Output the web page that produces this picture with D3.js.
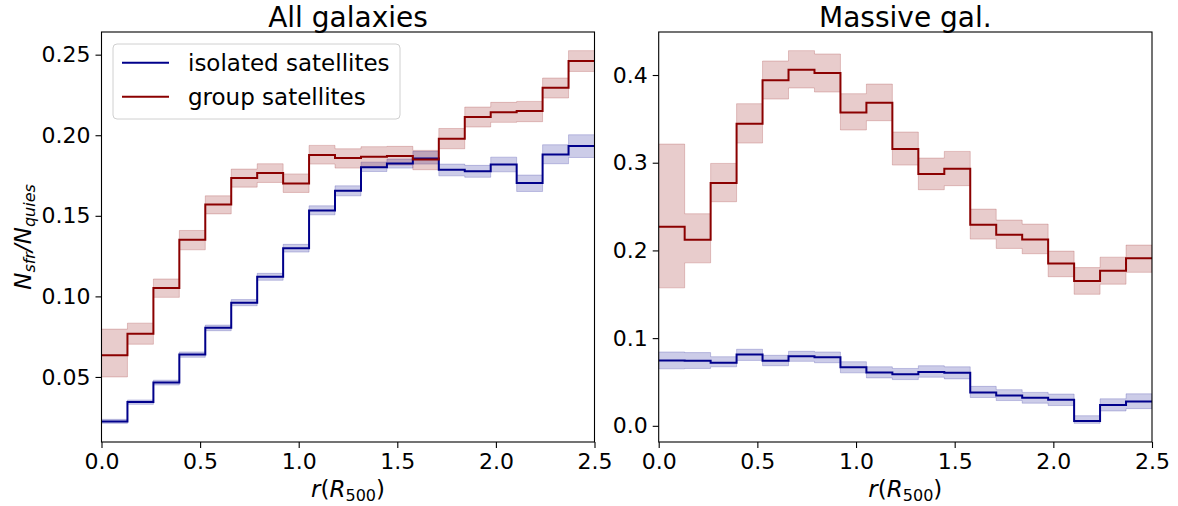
<!DOCTYPE html>
<html>
<head>
<meta charset="utf-8">
<script src="https://cdn.jsdelivr.net/npm/d3@7/dist/d3.min.js"></script>
<style>
  html, body { margin: 0; padding: 0; background: #fff; }
  svg { display: block; font-family: "DejaVu Sans", sans-serif; }
</style>
</head>
<body>
<svg id="chart" width="1178" height="506"></svg>
<script>
// ---- data ----
const binEdges = [0, 0.1316, 0.2632, 0.3947, 0.5263, 0.6579, 0.7895, 0.9211, 1.0526, 1.1842,
                  1.3158, 1.4474, 1.5789, 1.7105, 1.8421, 1.9737, 2.1053, 2.2368, 2.3684, 2.5];

const panelTitles = ["All galaxies", "Massive gal."];
const seriesNames = ["isolated satellites", "group satellites"];
const xTicks = [0.0, 0.5, 1.0, 1.5, 2.0, 2.5];
const yTicksAll = [0.05, 0.10, 0.15, 0.20, 0.25];
const yTicksMassive = [0.0, 0.1, 0.2, 0.3, 0.4];

// All galaxies – isolated satellites
const allIsoVal = [0.0224, 0.0344, 0.0465, 0.0639, 0.0805, 0.0961, 0.1122, 0.1299, 0.1533, 0.1655,
                   0.1802, 0.1825, 0.1856, 0.1786, 0.1777, 0.1819, 0.1703, 0.1881, 0.1933];
const allIsoLo  = [0.0212, 0.0330, 0.0450, 0.0622, 0.0787, 0.0942, 0.1100, 0.1275, 0.1506, 0.1624,
                   0.1775, 0.1796, 0.1821, 0.1748, 0.1739, 0.1773, 0.1651, 0.1823, 0.1862];
const allIsoHi  = [0.0237, 0.0357, 0.0480, 0.0655, 0.0822, 0.0980, 0.1143, 0.1323, 0.1562, 0.1686,
                   0.1833, 0.1852, 0.1900, 0.1821, 0.1813, 0.1864, 0.1753, 0.1941, 0.2003];
// All galaxies – group satellites
const allGrpVal = [0.0635, 0.0768, 0.1052, 0.1351, 0.1570, 0.1734, 0.1765, 0.1701, 0.1877, 0.1858,
                   0.1866, 0.1871, 0.1850, 0.1978, 0.2113, 0.2142, 0.2150, 0.2295, 0.2461];
const allGrpLo  = [0.0500, 0.0703, 0.0994, 0.1289, 0.1512, 0.1678, 0.1707, 0.1645, 0.1821, 0.1796,
                   0.1806, 0.1815, 0.1786, 0.1916, 0.2051, 0.2080, 0.2084, 0.2231, 0.2396];
const allGrpHi  = [0.0797, 0.0834, 0.1108, 0.1409, 0.1624, 0.1790, 0.1823, 0.1760, 0.1937, 0.1916,
                   0.1929, 0.1931, 0.1906, 0.2042, 0.2175, 0.2204, 0.2210, 0.2355, 0.2525];

// Massive galaxies – isolated satellites
const masIsoVal = [0.0746, 0.0742, 0.0719, 0.0812, 0.0742, 0.0792, 0.0781, 0.0669, 0.0608, 0.0588,
                   0.0615, 0.0604, 0.0381, 0.0346, 0.0319, 0.0296, 0.0054, 0.0238, 0.0277];
const masIsoLo  = [0.0650, 0.0654, 0.0673, 0.0746, 0.0685, 0.0735, 0.0719, 0.0604, 0.0546, 0.0527,
                   0.0554, 0.0535, 0.0323, 0.0288, 0.0258, 0.0231, 0.0028, 0.0169, 0.0196];
const masIsoHi  = [0.0842, 0.0835, 0.0788, 0.0873, 0.0804, 0.0850, 0.0842, 0.0731, 0.0673, 0.0654,
                   0.0685, 0.0673, 0.0450, 0.0412, 0.0381, 0.0362, 0.0115, 0.0308, 0.0365];
// Massive galaxies – group satellites
const masGrpVal = [0.2270, 0.2122, 0.2768, 0.3445, 0.3939, 0.4061, 0.4023, 0.3574, 0.3684, 0.3156,
                   0.2871, 0.2932, 0.2293, 0.2179, 0.2125, 0.1850, 0.1650, 0.1769, 0.1912];
const masGrpLo  = [0.1573, 0.1858, 0.2555, 0.3224, 0.3726, 0.3852, 0.3806, 0.3373, 0.3479, 0.2973,
                   0.2692, 0.2738, 0.2129, 0.2023, 0.1962, 0.1700, 0.1500, 0.1615, 0.1750];
const masGrpHi  = [0.3213, 0.2418, 0.2992, 0.3673, 0.4160, 0.4278, 0.4240, 0.3787, 0.3897, 0.3350,
                   0.3053, 0.3129, 0.2471, 0.2346, 0.2300, 0.1992, 0.1804, 0.1923, 0.2061];

const colors = { iso: "#00008b", grp: "#8b0000" };

// ---- layout ----
const svg = d3.select("#chart");
const panels = [
  { left: 101.5, right: 594.5, title: panelTitles[0], yTicks: yTicksAll, yFmt: d3.format(".2f"),
    series: [
      { key: "iso", val: allIsoVal, lo: allIsoLo, hi: allIsoHi },
      { key: "grp", val: allGrpVal, lo: allGrpLo, hi: allGrpHi } ], legend: true },
  { left: 658.7, right: 1152, title: panelTitles[1], yTicks: yTicksMassive, yFmt: d3.format(".1f"),
    series: [
      { key: "iso", val: masIsoVal, lo: masIsoLo, hi: masIsoHi },
      { key: "grp", val: masGrpVal, lo: masGrpLo, hi: masGrpHi } ], legend: false }
];
const plotTop = 32, plotBottom = 442;

function toPoints(s) {
  const pts = s.val.map((v, i) => ({ x: binEdges[i], v: v, lo: s.lo[i], hi: s.hi[i] }));
  const n = s.val.length - 1;
  pts.push({ x: binEdges[n + 1], v: s.val[n], lo: s.lo[n], hi: s.hi[n] });
  return pts;
}

panels.forEach((p, pi) => {
  const g = svg.append("g");
  const x = d3.scaleLinear().domain([0, 2.5]).range([p.left, p.right]);
  const allLo = d3.min(p.series, s => d3.min(s.lo));
  const allHi = d3.max(p.series, s => d3.max(s.hi));
  const pad = (allHi - allLo) * 0.05;
  const y = d3.scaleLinear().domain([allLo - pad, allHi + pad]).range([plotBottom, plotTop]);

  const clipId = "clip" + pi;
  g.append("clipPath").attr("id", clipId).append("rect")
    .attr("x", p.left).attr("y", plotTop).attr("width", p.right - p.left).attr("height", plotBottom - plotTop);

  const plot = g.append("g").attr("clip-path", `url(#${clipId})`);
  p.series.forEach(s => {
    const pts = toPoints(s);
    const area = d3.area().curve(d3.curveStepAfter)
      .x(d => x(d.x)).y0(d => y(d.lo)).y1(d => y(d.hi));
    plot.append("path").datum(pts).attr("d", area)
      .attr("fill", colors[s.key]).attr("fill-opacity", 0.2)
      .attr("stroke", colors[s.key]).attr("stroke-opacity", 0.2).attr("stroke-width", 1);
  });
  p.series.forEach(s => {
    const pts = toPoints(s);
    const line = d3.line().curve(d3.curveStepAfter).x(d => x(d.x)).y(d => y(d.v));
    plot.append("path").datum(pts).attr("d", line)
      .attr("fill", "none").attr("stroke", colors[s.key]).attr("stroke-width", 2);
  });

  // axes
  const xAxis = d3.axisBottom(x).tickValues(xTicks).tickFormat(d3.format(".1f")).tickSize(6).tickPadding(5);
  const gx = g.append("g").attr("transform", `translate(0,${plotBottom})`).call(xAxis);
  gx.select(".domain").remove();
  gx.selectAll("text").attr("font-size", 22).attr("fill", "#000").attr("font-family", "DejaVu Sans");
  gx.selectAll("line").attr("stroke", "#000").attr("stroke-width", 1.1);

  const yAxis = d3.axisLeft(y).tickValues(p.yTicks).tickFormat(p.yFmt).tickSize(6).tickPadding(5);
  const gy = g.append("g").attr("transform", `translate(${p.left},0)`).call(yAxis);
  gy.select(".domain").remove();
  gy.selectAll("text").attr("font-size", 22).attr("fill", "#000").attr("font-family", "DejaVu Sans");
  gy.selectAll("line").attr("stroke", "#000").attr("stroke-width", 1.1);

  // frame
  g.append("rect").attr("x", p.left).attr("y", plotTop).attr("width", p.right - p.left).attr("height", plotBottom - plotTop)
    .attr("fill", "none").attr("stroke", "#000").attr("stroke-width", 1.1);

  // title
  g.append("text").attr("x", (p.left + p.right) / 2).attr("y", 27).attr("text-anchor", "middle")
    .attr("font-size", 28).text(p.title);

  // x label r(R_500)
  const xl = g.append("text").attr("x", (p.left + p.right) / 2).attr("y", 497)
    .attr("text-anchor", "middle").attr("font-size", 23);
  xl.append("tspan").attr("font-style", "italic").text("r");
  xl.append("tspan").text("(");
  xl.append("tspan").attr("font-style", "italic").text("R");
  xl.append("tspan").attr("font-size", 16).attr("dy", 4).text("500");
  xl.append("tspan").attr("dy", -4).text(")");

  if (pi === 0) {
    // y label N_sfr / N_quies
    const yl = g.append("text").attr("transform", `translate(31,${(plotTop + plotBottom) / 2}) rotate(-90)`)
      .attr("text-anchor", "middle").attr("font-size", 23).attr("font-style", "italic");
    yl.append("tspan").text("N");
    yl.append("tspan").attr("font-size", 16).attr("dy", 4).text("sfr");
    yl.append("tspan").attr("dy", -4).text("/N");
    yl.append("tspan").attr("font-size", 16).attr("dy", 4).text("quies");
  }

  if (p.legend) {
    const lg = g.append("g");
    lg.append("rect").attr("x", 113).attr("y", 44).attr("width", 287).attr("height", 75)
      .attr("rx", 4).attr("fill", "#fff").attr("fill-opacity", 0.8)
      .attr("stroke", "#d0d0d0").attr("stroke-width", 1);
    const items = [{ key: "iso", name: seriesNames[0], y: 62.7 }, { key: "grp", name: seriesNames[1], y: 96.7 }];
    items.forEach(it => {
      lg.append("line").attr("x1", 122).attr("x2", 169).attr("y1", it.y).attr("y2", it.y)
        .attr("stroke", colors[it.key]).attr("stroke-width", 2);
      lg.append("text").attr("x", 188).attr("y", it.y).attr("dy", "0.35em")
        .attr("font-size", 23).text(it.name);
    });
  }
});
</script>
</body>
</html>
